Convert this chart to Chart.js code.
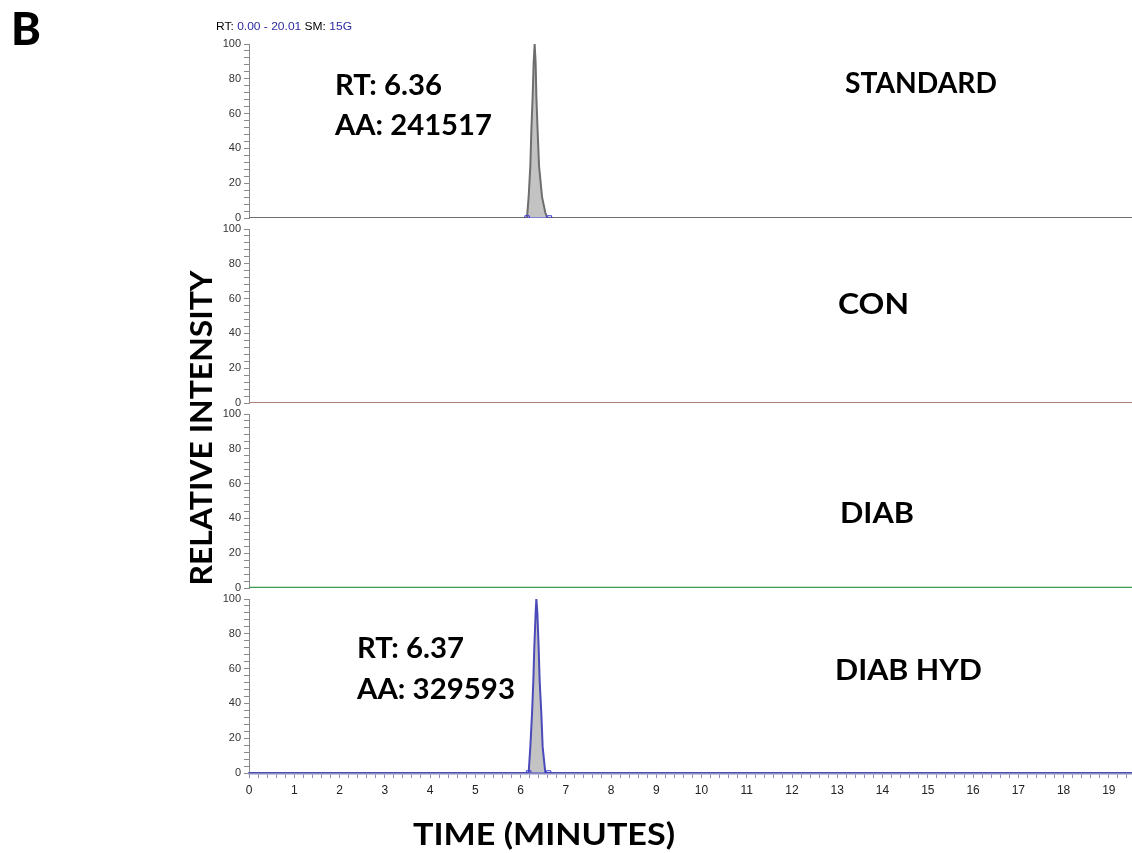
<!DOCTYPE html>
<html>
<head>
<meta charset="utf-8">
<script src="https://cdn.jsdelivr.net/npm/chart.js@4.4.1/dist/chart.umd.min.js"></script>
<style>
  html, body { margin: 0; padding: 0; background: #ffffff; }
  #wrap { position: relative; width: 1132px; height: 853px; overflow: hidden; background: #fff; }
  .panel { position: absolute; left: 0; }
  #overlay { position: absolute; left: 0; top: 0; }
</style>
</head>
<body>
<div id="wrap">
  <div class="panel" id="p0"><canvas id="c0" width="1137" height="194"></canvas></div>
  <div class="panel" id="p1"><canvas id="c1" width="1132" height="194"></canvas></div>
  <div class="panel" id="p2"><canvas id="c2" width="1132" height="194"></canvas></div>
  <div class="panel" id="p3"><canvas id="c3" width="1137" height="214"></canvas></div>
  <svg id="overlay" width="1132" height="853" xmlns="http://www.w3.org/2000/svg">
    <text x="11" y="45" font-family="Lato, 'Open Sans', sans-serif" font-weight="900" font-size="45" fill="#000">B</text>
    <text x="216" y="30" font-family="'Liberation Sans', Arial, sans-serif" font-size="10" fill="#000" textLength="136" lengthAdjust="spacingAndGlyphs">RT: <tspan fill="#2b2ba0">0.00 - 20.01</tspan>   SM: <tspan fill="#2b2ba0">15G</tspan></text>
    <g font-family="Lato, 'Open Sans', sans-serif" font-weight="700" fill="#000" font-size="28">
      <text x="335" y="95" textLength="107" lengthAdjust="spacingAndGlyphs">RT: 6.36</text>
      <text x="335" y="135" textLength="157" lengthAdjust="spacingAndGlyphs">AA: 241517</text>
      <text x="845" y="93" textLength="152" lengthAdjust="spacingAndGlyphs">STANDARD</text>
      <text x="838" y="314" textLength="71" lengthAdjust="spacingAndGlyphs">CON</text>
      <text x="840" y="523" textLength="74" lengthAdjust="spacingAndGlyphs">DIAB</text>
      <text x="835" y="680" textLength="147" lengthAdjust="spacingAndGlyphs">DIAB HYD</text>
      <text x="357" y="658" textLength="107" lengthAdjust="spacingAndGlyphs">RT: 6.37</text>
      <text x="357" y="699" textLength="158" lengthAdjust="spacingAndGlyphs">AA: 329593</text>
    </g>
    <g font-family="Lato, 'Open Sans', sans-serif" font-weight="700" fill="#000" font-size="31">
      <text x="544" y="845" text-anchor="middle" textLength="262" lengthAdjust="spacingAndGlyphs">TIME (MINUTES)</text>
      <text transform="translate(212,428) rotate(-90)" x="0" y="0" text-anchor="middle" textLength="315" lengthAdjust="spacingAndGlyphs">RELATIVE INTENSITY</text>
    </g>
  </svg>
</div>
<script>
// ---------------- data ----------------
const panelNames = ["STANDARD", "CON", "DIAB", "DIAB HYD"];

const stdTime      = [0, 6.12, 6.144, 6.179, 6.217, 6.239, 6.268, 6.290, 6.312, 6.334, 6.350, 6.378, 6.409, 6.476, 6.549, 6.593, 20.01];
const stdIntensity = [0, 0,    0.5,   12,    30,    50,    70,    89,    100,   89,    70,    50,    30,    12,    3,     0,     0];

const conTime      = [0, 20.01];
const conIntensity = [0, 0];

const diabTime      = [0, 20.01];
const diabIntensity = [0, 0];

const hydTime      = [0, 6.179, 6.217, 6.254, 6.283, 6.305, 6.334, 6.350, 6.372, 6.400, 6.423, 6.460, 6.489, 6.549, 20.01];
const hydIntensity = [0, 0,     15,    34,    53,    72.6,  92,    100,   92,    72.6,  53,    34,    15,    0,     0];

const stdPeakBounds = [6.144, 6.637];
const hydPeakBounds = [6.18, 6.62];

const xTickLabels = [0,1,2,3,4,5,6,7,8,9,10,11,12,13,14,15,16,17,18,19];
const yTickLabels = [0,20,40,60,80,100];

// ---------------- helpers ----------------
function pts(xs, ys) { return xs.map((x, i) => ({ x: x, y: ys[i] })); }
function boundPts(b) { return b.map(x => ({ x: x, y: 0 })); }

const panelTops = [44, 229, 414, 599];

function traceDs(xs, ys, color, fill) {
  return {
    data: pts(xs, ys),
    borderColor: color,
    borderWidth: 2,
    backgroundColor: '#c3c3c3',
    fill: fill ? 'origin' : false,
    pointRadius: 0,
    pointHoverRadius: 0,
    tension: 0,
    order: 2
  };
}
function markDs(b) {
  return {
    data: boundPts(b),
    borderColor: '#3b3bd6',
    borderWidth: 1,
    showLine: true,
    fill: false,
    pointStyle: 'rect',
    pointRadius: 3.2,
    pointHoverRadius: 3.2,
    pointBorderColor: '#3b3bd6',
    pointBackgroundColor: 'rgba(0,0,0,0)',
    pointBorderWidth: 1,
    order: 1
  };
}

function makePanel(idx, datasets, showX) {
  const wrap = document.getElementById('p' + idx);
  wrap.style.top = (panelTops[idx] - 10) + 'px';
  const canvas = document.getElementById('c' + idx);
  wrap.style.height = canvas.height + 'px';
  wrap.style.width = canvas.width + 'px';
  new Chart(canvas, {
    type: 'line',
    data: { datasets: datasets },
    options: {
      responsive: false,
      animation: false,
      devicePixelRatio: 1,
      events: [],
      layout: { padding: { top: 10, bottom: showX ? 0 : 10, left: 0, right: 0 } },
      plugins: { legend: { display: false }, tooltip: { enabled: false } },
      scales: {
        x: {
          type: 'linear',
          min: 0,
          max: 19.53,
          display: showX,
          border: { display: true, color: '#8b8bbb', width: 2.5 },
          grid: { display: true, drawOnChartArea: false, drawTicks: true, tickLength: 5, color: '#8b8bbb', tickColor: '#8b8bbb', tickWidth: 1 },
          ticks: {
            stepSize: 0.2,
            maxTicksLimit: 1000,
            autoSkip: false,
            includeBounds: false,
            maxRotation: 0,
            minRotation: 0,
            padding: 5,
            color: '#222',
            font: { family: "'Liberation Sans', Arial, sans-serif", size: 12 },
            callback: function (v) {
              const r = Math.round(v);
              return (Math.abs(v - r) < 1e-6 && xTickLabels.includes(r)) ? String(r) : '';
            }
          },
          afterFit: function (s) {
            if (showX) { s.height = 30; }
            s.paddingRight = 0;
            s.paddingLeft = 0;
          }
        },
        y: {
          min: 0,
          max: 100,
          border: { display: true, color: '#8a8a8a', width: 1 },
          grid: { display: true, drawOnChartArea: false, drawTicks: true, tickLength: 5, color: '#8a8a8a', tickColor: '#8a8a8a', tickWidth: 1 },
          ticks: {
            stepSize: 4,
            maxTicksLimit: 1000,
            autoSkip: false,
            padding: 3,
            color: '#333',
            font: { family: "'Liberation Sans', Arial, sans-serif", size: 11 },
            callback: function (v) {
              const r = Math.round(v);
              return (Math.abs(v - r) < 1e-6 && yTickLabels.includes(r)) ? String(r) : '';
            }
          },
          afterFit: function (s) { s.width = 249; }
        }
      }
    }
  });
}

makePanel(0, [traceDs(stdTime, stdIntensity, '#6e6e6e', true), markDs(stdPeakBounds)], false);
makePanel(1, [traceDs(conTime, conIntensity, '#ad7f78', false)], false);
makePanel(2, [Object.assign(traceDs(diabTime, diabIntensity, '#3a9a50', false), { borderWidth: 2.5 })], false);
makePanel(3, [traceDs(hydTime, hydIntensity, '#4a4ab8', true), markDs(hydPeakBounds)], true);
</script>
</body>
</html>
